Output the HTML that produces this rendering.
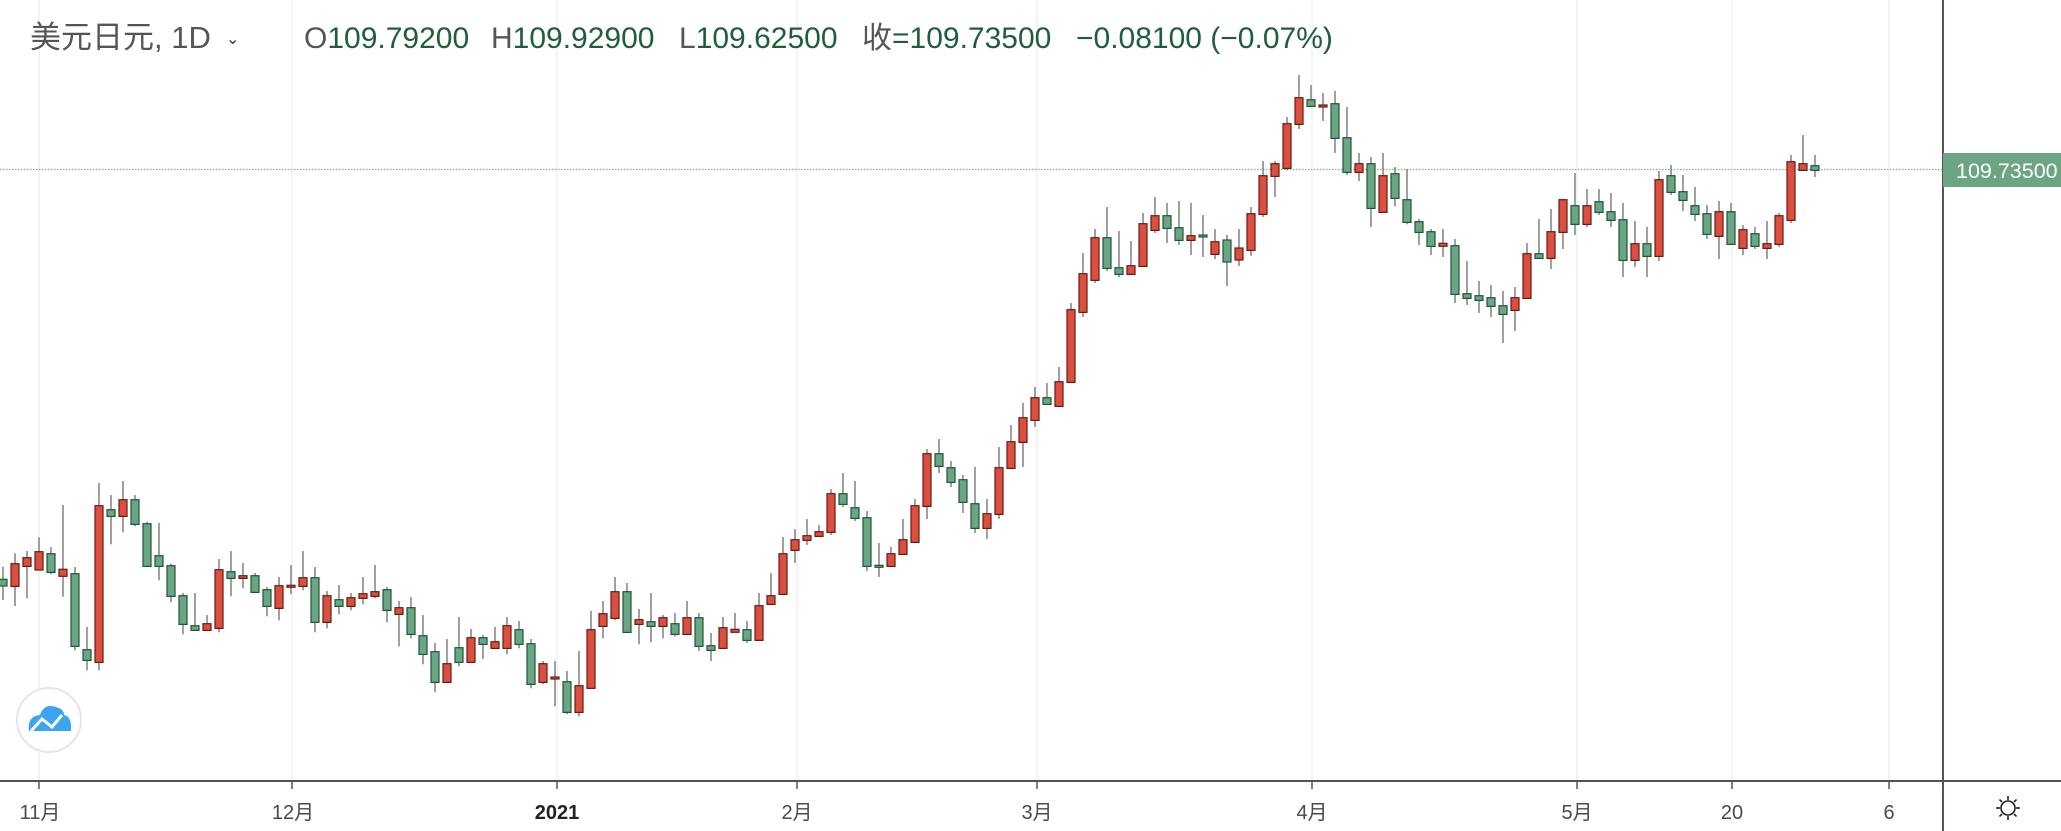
<!DOCTYPE html>
<html><head><meta charset="utf-8"><style>
html,body{margin:0;padding:0;background:#fff;}
body{width:2061px;height:831px;overflow:hidden;position:relative;font-family:"Liberation Sans","Noto Sans CJK SC",sans-serif;}
svg{position:absolute;left:0;top:0;}
</style></head><body>
<svg id="s" width="2061" height="831" xmlns="http://www.w3.org/2000/svg">
<g id="grid" stroke="#eef1f6" stroke-width="1.5">
<line x1="39" y1="0" x2="39" y2="781"/><line x1="292" y1="0" x2="292" y2="781"/>
<line x1="557" y1="0" x2="557" y2="781"/><line x1="797" y1="0" x2="797" y2="781"/>
<line x1="1037" y1="0" x2="1037" y2="781"/><line x1="1312" y1="0" x2="1312" y2="781"/>
<line x1="1577" y1="0" x2="1577" y2="781"/><line x1="1732" y1="0" x2="1732" y2="781"/>
<line x1="1889" y1="0" x2="1889" y2="781"/>
</g>
<line x1="0" y1="169.5" x2="1943" y2="169.5" stroke="#7fb596" stroke-width="1.3" stroke-dasharray="1.5 1.5"/>
<g id="c"></g>
<line x1="0" y1="781" x2="2061" y2="781" stroke="#50535e" stroke-width="2"/>
<line x1="1943" y1="0" x2="1943" y2="831" stroke="#50535e" stroke-width="2"/>
<g stroke="#50535e" stroke-width="1.5">
<line x1="39" y1="781" x2="39" y2="789"/><line x1="292" y1="781" x2="292" y2="789"/>
<line x1="557" y1="781" x2="557" y2="789"/><line x1="797" y1="781" x2="797" y2="789"/>
<line x1="1037" y1="781" x2="1037" y2="789"/><line x1="1312" y1="781" x2="1312" y2="789"/>
<line x1="1577" y1="781" x2="1577" y2="789"/><line x1="1732" y1="781" x2="1732" y2="789"/>
<line x1="1889" y1="781" x2="1889" y2="789"/>
</g>
<g font-size="20" fill="#4a4a4a" text-anchor="middle" font-family="Liberation Sans, Noto Sans CJK SC, sans-serif">
<text x="40" y="819">11月</text><text x="293" y="819">12月</text>
<text x="557" y="819" font-weight="bold" fill="#222">2021</text><text x="797" y="819">2月</text>
<text x="1037" y="819">3月</text><text x="1312" y="819">4月</text>
<text x="1577" y="819">5月</text><text x="1732" y="819">20</text><text x="1889" y="819">6</text>
</g>
<rect x="1943" y="153" width="118" height="34" fill="#6ba583"/>
<text x="1956" y="178" font-size="21.5" fill="#fff">109.73500</text>
<g transform="translate(2008,808)" fill="none" stroke="#222" stroke-width="1.6">
<circle r="7"/><line x1="0" y1="-12" x2="0" y2="-8"/><line x1="0" y1="12" x2="0" y2="8"/>
<line x1="-12" y1="0" x2="-8" y2="0"/><line x1="12" y1="0" x2="8" y2="0"/>
<line x1="-8.5" y1="-8.5" x2="-6" y2="-6"/><line x1="8.5" y1="8.5" x2="6" y2="6"/>
<line x1="-8.5" y1="8.5" x2="-6" y2="6"/><line x1="8.5" y1="-8.5" x2="6" y2="-6"/>
</g>
<circle cx="49" cy="720" r="32" fill="#fff" stroke="#e6e6e6" stroke-width="2"/>
<path d="M29 731 Q27 716 40 715 Q44 703 56 707 Q64 709 64 715 Q72 716 71 731 Z" fill="#3aa5f0"/>
<polyline points="31,731 42,719 52,727 62,715" fill="none" stroke="#fff" stroke-width="3"/>
<g font-family="Liberation Sans, Noto Sans CJK SC, sans-serif">
<text x="30" y="48" font-size="31" fill="#555">美元日元, 1D</text>
<text x="226" y="44" font-size="16" fill="#333">⌄</text>
<g font-size="30">
<text x="304" y="48" fill="#555">O<tspan fill="#1f5e3b">109.79200</tspan></text>
<text x="491" y="48" fill="#555">H<tspan fill="#1f5e3b">109.92900</tspan></text>
<text x="679" y="48" fill="#555">L<tspan fill="#1f5e3b">109.62500</tspan></text>
<text x="862" y="48" fill="#555">收<tspan fill="#1f5e3b">=109.73500</tspan></text>
<text x="1076" y="48" fill="#1f5e3b">−0.08100 (−0.07%)</text>
</g>
</g>
</svg>
<script>
var Z2=[460,3],Z6=[500,3],Z4=[180,3],Z7=[60,3],Z5=[50,3];
var D=[
[Z2,[['G',358,378,320,420],['R',311,379,280,438],['R',293,319,273,415],['R',275,330,232,330],['G',281,337,262,343],['R',328,349,135,410],['G',341,559,321,571],['G',569,601,501,631],['R',137,607,69,631],['G',149,169,105,253],['R',119,169,63,217],['G',119,193,105,199],['G',191,319,185,319],['G',287,319,189,361],['G',317,409,311,427],['G',407,493,399,523],['G',497,511,399,511],['R',491,511,465,511],['R',329,505,297,517],['G',335,355,273,409],['R',347,355,309,385],['G',347,397,339,397],['G',389,439,381,469],['R',377,445,351,481],['R',376,380,315,403],['R',353,379,273,391],['G',353,487,321,517],['R',407,487,393,505],['G',419,439,375,463],['R',413,439,399,451],['R',401,415,351,433],['R',395,409,315,415],['G',389,451,381,487],['R',443,463,423,559],['G',443,523,411,535],['G',527,583,465,613],['G',575,667,549,697],['R',611,667,537,667],['G',563,607,471,619],['R',533,607,507,607],['G',533,553,525,597],['R',545,565,501,565],['R',497,565,471,583],['G',509,553,483,565],['G',551,673,537,685],['R',611,667,603,673],['R',651,656,603,739],['G',665,757,633,763],['R',677,757,573,769],['R',509,685,453,685],['R',461,499,423,535],['R',395,475,351,481],['G',395,517,369,517],['R',479,493,447,553],['G',485,499,399,547],['R',473,499,465,535],['G',491,523,459,529],['R',473,523,423,523]]],
[Z6,[['G',353,439,339,453],['G',437,451,399,483],['R',383,445,351,445],['R',388,397,339,397],['G',389,421,363,429],['R',317,421,279,421],['R',287,313,219,313]]],
[Z4,[['R',1121,1243,1071,1243],['R',1079,1111,1047,1149],['R',1067,1081,1017,1095],['R',1055,1069,1035,1069],['R',941,1057,927,1065],['G',941,973,879,981],['G',983,1015,903,1023],['G',1013,1159,993,1173],['G',1156,1161,1089,1191],['R',1121,1159,1101,1159],['R',1079,1123,1017,1123],['R',977,1087,957,1087],['R',821,979,807,1017],['G',821,859,777,879],['G',863,907,843,921],['G',899,967,885,999],['G',971,1045,861,1059],['R',1001,1045,957,1077],['R',863,1003,801,1017],['R',785,865,735,865],['R',713,787,669,861],['R',653,721,621,741],['G',653,673,609,673],['R',605,679,561,679],['R',389,607,369,607],['R',281,397,219,411],['R',173,301,147,309],['G',173,265,81,273],['G',263,283,153,291],['R',257,283,183,283],['R',131,259,99,259],['R',107,151,51,159],['G',107,145,69,189],['G',143,181,63,195],['R',167,181,69,225],['G',165,170,105,231],['R',185,223,147,237]]],
[Z7,[['G',540,606,525,678],['R',564,600,507,618],['R',461,571,441,587],['R',347,463,303,471],['R',311,349,303,411],['R',191,325,171,331],['R',113,193,45,207],['G',119,139,75,139],['R',135,140,99,183],['G',131,235,93,279],['G',233,337,141,345],['R',311,337,279,363]]],
[Z5,[['G',341,475,321,531],['R',377,487,309,487],['G',371,445,351,469],['G',449,517,357,523],['G',515,547,507,585],['G',545,589,537,615],['R',580,589,537,621],['G',587,733,567,759],['G',731,745,633,765],['G',737,751,693,789],['G',743,769,705,801],['G',767,793,723,879],['R',743,781,711,843],['R',611,745,579,745],['G',611,625,507,625],['R',545,625,477,657],['R',449,547,449,597],['G',467,523,369,555],['R',467,523,417,531],['G',455,487,417,495],['G',485,511,429,531],['G',509,631,459,681],['R',581,631,513,651],['G',581,619,531,681],['R',389,619,363,633],['G',377,427,345,435],['G',425,451,375,483],['G',467,493,411,513],['G',491,553,465,567],['R',485,559,453,627],['G',485,583,459,583],['R',539,595,525,615],['G',551,589,531,597],['R',581,595,513,627],['R',497,583,489,591],['R',335,511,315,519],['R',341,361,255,361],['G',347,361,315,381]]]
];
var out='',i=0;
D.forEach(function(seg){var o=seg[0][0],d=seg[0][1];seg[1].forEach(function(c){
 var x=3+12*i,bt=o+c[1]/d,bb=o+c[2]/d,wt=o+c[3]/d,wb=o+c[4]/d;
 if(bb-bt<2){bb=bt+2;}
 out+='<line x1="'+x+'" y1="'+wt.toFixed(1)+'" x2="'+x+'" y2="'+wb.toFixed(1)+'" stroke="#777" stroke-width="1.4"/>';
 var f=c[0]=='R'?'#d9503f':'#6aa683',s=c[0]=='R'?'#6b1a15':'#1f5637';
 out+='<rect x="'+(x-4)+'" y="'+bt.toFixed(1)+'" width="8" height="'+(bb-bt).toFixed(1)+'" fill="'+f+'" stroke="'+s+'" stroke-width="1.2"/>';
 i++;});});
document.getElementById('c').innerHTML=out;
</script>
</body></html>
